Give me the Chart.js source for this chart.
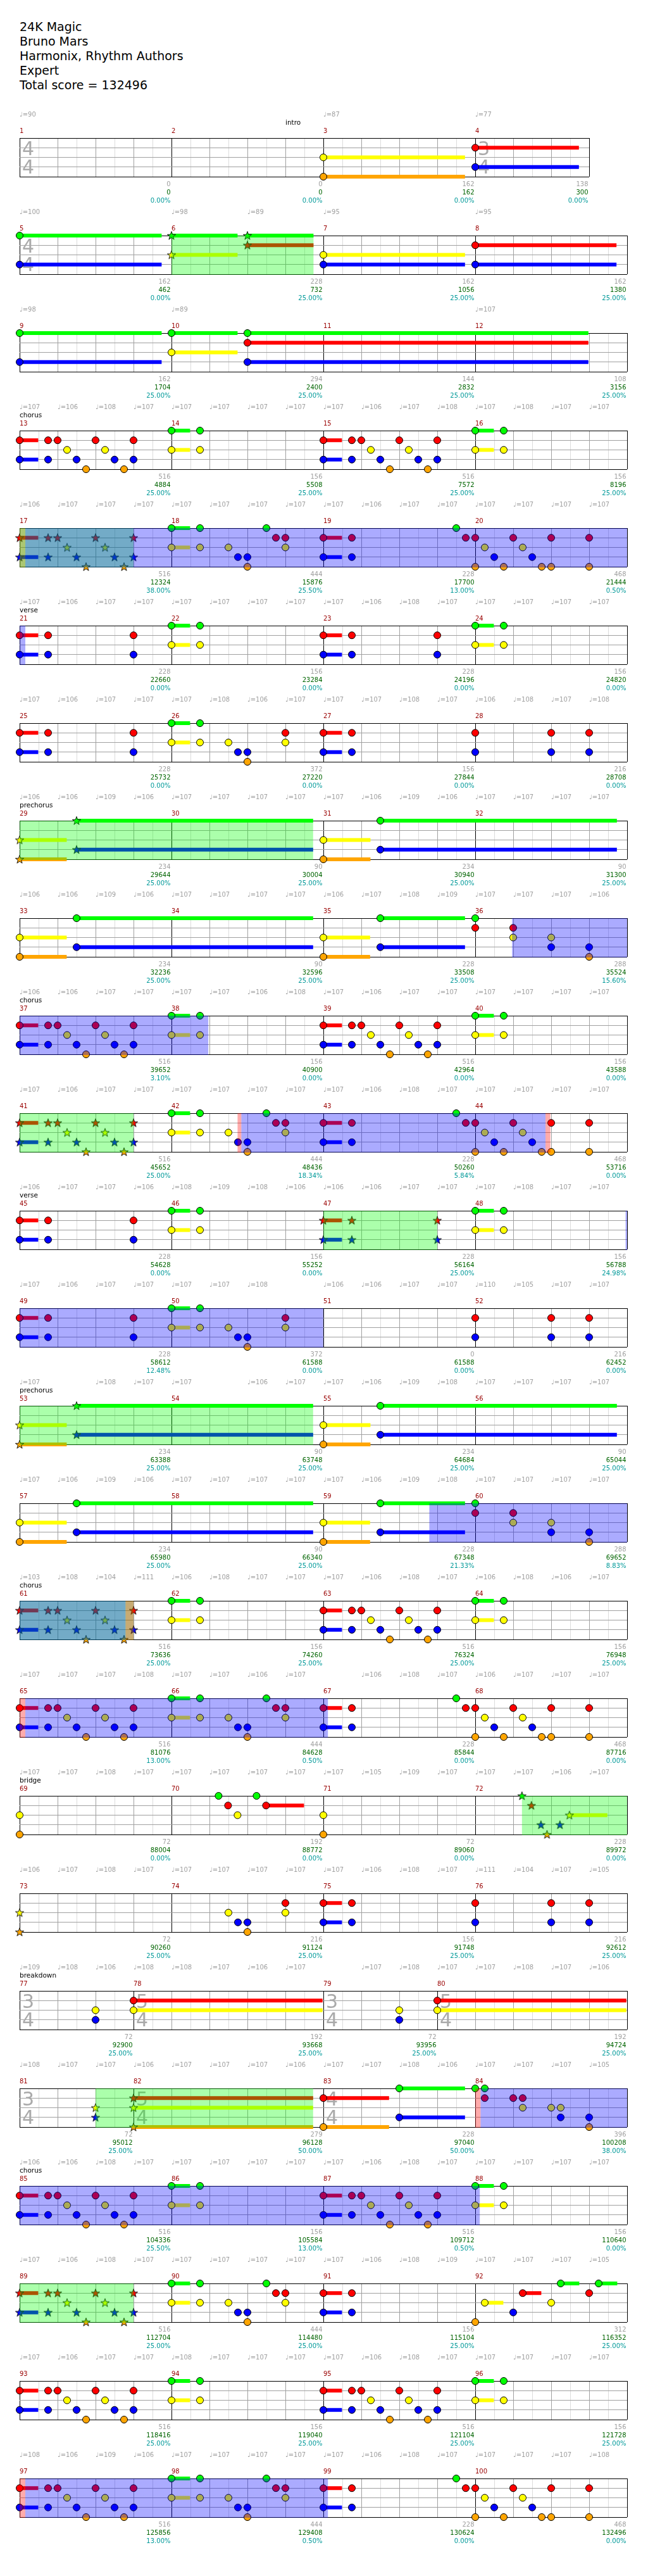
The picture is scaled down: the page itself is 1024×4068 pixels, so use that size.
<!DOCTYPE html>
<html>
<head>
<meta charset="utf-8">
<title>24K Magic - Expert guitar chart</title>
<script src="https://cdn.jsdelivr.net/npm/chart.js@4.4.1/dist/chart.umd.min.js"></script>
<style>
  body { margin: 0; background: #fff; width: 1024px; height: 4068px; position: relative; overflow: hidden; }
  #title { position: absolute; left: 31px; top: 31px; font: 19px 'DejaVu Sans'; line-height: 23px; color: #000; white-space: pre; }
  canvas.row { position: absolute; left: 0; }
</style>
</head>
<body>
<div id="title"></div>
<script>
const songInfo = ['24K Magic', 'Bruno Mars', 'Harmonix, Rhythm Authors', 'Expert', 'Total score = 132496'];

const LANES = 'GRYBO';
const laneColors = ['#00ff00', '#ff0000', '#ffff00', '#0000ff', '#ffa500'];

// measures that are not 4/4
const meterMeasures = [4, 77, 78, 79, 80, 81, 82];
const meterBeats = [3, 3, 5, 3, 5, 3, 5];

// note patterns: [beat inside measure, lanes, sustain length in beats]
const intro3 = [[0, 'YO', 3.73]];
const intro4 = [[0, 'RB', 2.73]];
const introA = [[0, 'GB', 3.74]];
const introB = [[0, 'GY', 1.74], [2, 'GR', 1.74]];
const introC = [[0, 'YB', 3.73]];
const introD = [[0, 'RB', 3.72]];
const introE = [[0, 'GY', 1.74], [2, 'GRB', 8.98]];
const chorusA = [[0, 'RB', 0.49], [0.75, 'RB'], [1, 'R'], [1.25, 'Y'], [1.5, 'B'], [1.75, 'O'], [2, 'R'], [2.25, 'Y'], [2.5, 'B'], [2.75, 'O'], [3, 'RB']];
const chorusB = [[0, 'GY', 0.49], [0.75, 'GY']];
const fill = [[0, 'GY', 0.49], [0.75, 'GY'], [1.5, 'Y'], [1.75, 'B'], [2, 'BO'], [2.5, 'G'], [2.75, 'R'], [3, 'RY']];
const fillShort = [[0, 'GY', 0.49], [0.75, 'GY'], [1.5, 'Y'], [1.75, 'B'], [2, 'BO'], [3, 'RY']];
const hits = [[0, 'RB', 0.49], [0.75, 'RB'], [3.5, 'G'], [3.75, 'R']];
const run = [[0, 'RO'], [0.25, 'Y'], [0.5, 'B'], [0.75, 'O'], [1, 'R'], [1.25, 'Y'], [1.5, 'B'], [1.75, 'O'], [2, 'RO'], [3, 'RO']];
const verseA = [[0, 'RB', 0.49], [0.75, 'RB'], [3, 'RB']];
const verseB = [[0, 'RB', 0.49], [0.75, 'RB']];
const verseC = [[0, 'RB'], [2, 'RB'], [3, 'RB']];
const preA = [[0, 'YO', 1.24], [1.5, 'GB', 6.23]];
const preB = [[0, 'YO', 1.23], [1.5, 'GB', 2.23]];
const solo = [[0, 'GR'], [1, 'RY'], [2, 'YB'], [3, 'BO']];
const bridgeA = [[0, 'YO']];
const bridgeB = [[1.24, 'G'], [1.49, 'R'], [1.74, 'Y'], [2.24, 'G'], [2.49, 'R', 1.0]];
const bridgeC = [[1.23, 'G'], [1.48, 'R'], [1.73, 'B'], [1.89, 'O'], [2.23, 'B'], [2.48, 'Y', 1.0]];
const bridgeD = [[1.5, 'Y'], [1.75, 'B'], [2, 'BO'], [3, 'RY']];
const breakA = [[2, 'YB']];
const breakB = [[0, 'RY', 4.98]];
const breakC = [[0, 'RYO', 4.73]];
const breakD = [[0, 'RO', 1.73], [2, 'GB', 1.73]];
const breakE = [[0, 'G'], [0.25, 'GR'], [1, 'R'], [1.25, 'RY'], [2, 'Y'], [2.25, 'YB'], [3, 'BO']];
const outroA = [[0, 'O'], [0.25, 'Y', 0.49], [1, 'B'], [1.25, 'R', 0.49], [2, 'Y'], [2.25, 'G', 0.49], [3, 'R'], [3.25, 'G', 0.49]];

const measureNotes = [
  null, null, intro3, intro4,
  introA, introB, introC, introD,
  introA, introE, null, null,
  chorusA, chorusB, chorusA, chorusB,
  chorusA, fill, hits, run,
  verseA, chorusB, verseA, chorusB,
  verseA, fillShort, verseB, verseC,
  preA, null, preA, null,
  preA, null, preB, solo,
  chorusA, chorusB, chorusA, chorusB,
  chorusA, fill, hits, run,
  verseA, chorusB, verseA, chorusB,
  verseA, fillShort, null, verseC,
  preA, null, preA, null,
  preA, null, preB, solo,
  chorusA, chorusB, chorusA, chorusB,
  chorusA, fill, hits, run,
  bridgeA, bridgeB, bridgeA, bridgeC,
  bridgeA, bridgeD, verseB, verseC,
  breakA, breakB, breakA, breakB,
  breakA, breakC, breakD, breakE,
  chorusA, chorusB, chorusA, chorusB,
  chorusA, fill, verseB, outroA,
  chorusA, chorusB, chorusA, chorusB,
  chorusA, fill, hits, run
];
// measures whose notes are star power notes
const starMeasures = [6, 17, 29, 41, 47, 53, 61, 72, 73, 81, 82, 89];

const measureScore = [
  0, 0, 162, 138, 162, 228, 162, 162, 162, 294, 144, 108, 516, 156, 516, 156,
  516, 444, 228, 468, 228, 156, 228, 156, 228, 372, 156, 216, 234, 90, 234, 90,
  234, 90, 228, 288, 516, 156, 516, 156, 516, 444, 228, 468, 228, 156, 228, 156,
  228, 372, 0, 216, 234, 90, 234, 90, 234, 90, 228, 288, 516, 156, 516, 156,
  516, 444, 228, 468, 72, 192, 72, 228, 72, 216, 156, 216, 72, 192, 72, 192,
  72, 279, 228, 396, 516, 156, 516, 156, 516, 444, 156, 312, 516, 156, 516, 156,
  516, 444, 228, 468
];
const totalScore = [
  0, 0, 162, 300, 462, 732, 1056, 1380, 1704, 2400, 2832, 3156,
  4884, 5508, 7572, 8196, 12324, 15876, 17700, 21444, 22660, 23284, 24196, 24820,
  25732, 27220, 27844, 28708, 29644, 30004, 30940, 31300, 32236, 32596, 33508, 35524,
  39652, 40900, 42964, 43588, 45652, 48436, 50260, 53716, 54628, 55252, 56164, 56788,
  58612, 61588, 61588, 62452, 63388, 63748, 64684, 65044, 65980, 66340, 67348, 69652,
  73636, 74260, 76324, 76948, 81076, 84628, 85844, 87716, 88004, 88772, 89060, 89972,
  90260, 91124, 91748, 92612, 92900, 93668, 93956, 94724, 95012, 96128, 97040, 100208,
  104336, 105584, 109712, 110640, 112704, 114480, 115104, 116352, 118416, 119040, 121104, 121728,
  125856, 129408, 130624, 132496
];
const spPercent = [
  0, 0, 0, 0, 0, 25, 25, 25, 25, 25, 25, 25, 25, 25, 25, 25,
  38, 25.5, 13, 0.5, 0, 0, 0, 0, 0, 0, 0, 0, 25, 25, 25, 25,
  25, 25, 25, 15.6, 3.1, 0, 0, 0, 25, 18.34, 5.84, 0, 0, 0, 25, 24.98,
  12.48, 0, 0, 0, 25, 25, 25, 25, 25, 25, 21.33, 8.83, 25, 25, 25, 25,
  13, 0.5, 0, 0, 0, 0, 0, 0, 25, 25, 25, 25, 25, 25, 25, 25,
  25, 50, 50, 38, 25.5, 13, 0.5, 0, 25, 25, 25, 25, 25, 25, 25, 25,
  13, 0.5, 0, 0
];

// tempo marks per row, one slot per beat
const rowTempos = [
  [90, null, null, null, null, null, null, null, 87, null, null, null, 77, null, null],
  [100, null, null, null, 98, null, 89, null, 95, null, null, null, 95, null, null, null],
  [98, null, null, null, 89, null, null, null, null, null, null, null, 107, null, null, null],
  [107, 106, 108, 107, 107, 107, 107, 107, 107, 106, 107, 108, 107, 108, 107, 107],
  [106, 107, 107, 107, 107, 107, 107, 107, 107, 106, 107, 107, 107, 107, 107, 107],
  [107, 106, 107, 107, 107, 107, 107, 107, 107, 106, 108, 107, 107, 107, 107, 107],
  [107, 106, 107, 107, 107, 108, 106, 107, 107, 107, 108, 107, 106, 108, 107, 108],
  [106, 106, 109, 106, 107, 107, 107, 107, 107, 106, 109, 106, 107, 107, 107, 107],
  [106, 106, 109, 106, 107, 107, 107, 107, 106, 107, 108, 109, 107, 107, 107, 106],
  [106, 106, 107, 107, 107, 107, 106, 108, 107, 106, 107, 107, 107, 107, 107, 107],
  [107, 106, 107, 107, 107, 107, 107, 107, 107, 106, 108, 107, 107, 107, 107, 107],
  [106, 107, 107, 106, 108, 109, 108, 106, 106, 106, 107, 107, 107, 108, 107, 107],
  [107, 106, 107, 107, 107, 107, 108, null, 106, 106, 107, 107, 110, 105, 107, 107],
  [107, null, 108, 107, 107, null, 106, 107, 107, 106, 109, 108, 107, 107, 107, 107],
  [107, 106, 109, 106, 107, 107, 107, 107, 107, 106, 109, 108, 107, 107, 107, 107],
  [103, 108, 104, 111, 106, 108, 107, 107, 107, 106, 108, 107, 106, 108, 106, 107],
  [107, 107, 107, 108, 107, 107, 106, 107, null, 106, 108, 107, 106, 107, 107, 107],
  [107, 107, 108, 107, 107, 107, 107, 107, 107, 105, 109, 107, 107, 107, 106, 107],
  [106, 107, 108, 107, 107, 107, 107, 107, 107, 106, 108, 107, 111, 104, 107, 105],
  [109, 108, 106, 108, 108, 107, 106, 107, null, 107, 108, 107, 107, 108, 107, 106],
  [108, 107, 107, 106, 107, 107, 107, 106, 107, 107, 108, 106, 107, 107, 107, 105],
  [106, 106, 108, 107, 107, 107, 107, 107, 107, 106, 108, 107, 107, 107, 107, 107],
  [107, 106, 108, 107, 107, 107, 107, 107, 107, 106, 108, 109, 107, 107, 107, 105],
  [107, 106, 107, 107, 108, 107, 107, 107, 107, 106, 108, 107, 107, 107, 107, 107],
  [108, 106, 109, 106, 107, 107, 107, 107, 107, 106, 108, 107, 107, 107, 107, 108]
];

// [measure, beat inside measure, name]
const sections = [
  [2, 3, 'intro'], [13, 0, 'chorus'], [21, 0, 'verse'], [29, 0, 'prechorus'],
  [37, 0, 'chorus'], [45, 0, 'verse'], [53, 0, 'prechorus'], [61, 0, 'chorus'],
  [69, 0, 'bridge'], [77, 0, 'breakdown'], [85, 0, 'chorus']
];

// shaded phrases: [row, start beat, end beat, kind]
const phrases = [
  [1, 4, 7.74, 'star'],
  [4, 0, 0.15, 'whammy'], [4, 0, 3, 'star'], [4, 0.15, 16, 'drive'],
  [5, 0, 0.15, 'drive'],
  [7, 0, 7.73, 'star'],
  [8, 12.97, 16, 'drive'],
  [9, 0, 4.97, 'drive'],
  [10, 0, 3, 'star'], [10, 5.74, 5.84, 'whammy'], [10, 5.84, 13.85, 'drive'], [10, 13.85, 13.98, 'whammy'],
  [11, 8, 11, 'star'], [11, 15.96, 16, 'drive'],
  [12, 0, 8, 'drive'],
  [13, 0, 7.73, 'star'],
  [14, 10.79, 16, 'drive'],
  [15, 0, 3, 'star'], [15, 0, 2.79, 'drive'], [15, 2.79, 3, 'whammy'],
  [16, 0, 0.15, 'whammy'], [16, 0.15, 8.12, 'drive'],
  [17, 13.23, 16, 'star'],
  [20, 2, 7.73, 'star'], [20, 12, 12.14, 'whammy'], [20, 12.14, 16, 'drive'],
  [21, 0, 12.12, 'drive'],
  [22, 0, 3, 'star'],
  [24, 0, 0.15, 'whammy'], [24, 0.15, 8.12, 'drive']
];
const phraseFill = { star: 'rgba(0,255,0,0.33)', drive: 'rgba(0,0,255,0.33)', whammy: 'rgba(255,0,0,0.33)' };

document.getElementById('title').textContent = songInfo.join('\n');

function beatsOf(m) {
  const i = meterMeasures.indexOf(m);
  return i < 0 ? 4 : meterBeats[i];
}

function starImage(color) {
  const c = document.createElement('canvas');
  c.width = 16; c.height = 16;
  const g = c.getContext('2d');
  g.beginPath();
  for (let i = 0; i < 10; i++) {
    const rad = i % 2 ? 2.8 : 7;
    const a = -Math.PI / 2 + i * Math.PI / 5;
    g.lineTo(8 + rad * Math.cos(a), 8.5 + rad * Math.sin(a));
  }
  g.closePath();
  g.fillStyle = color;
  g.fill();
  g.strokeStyle = '#1a1a1a';
  g.lineWidth = 1;
  g.stroke();
  return c;
}
const starImages = laneColors.map(starImage);

const FONT = "'DejaVu Sans'";
const STAFF_TOP = 47, ROW_H = 155;

const rowPlugin = {
  id: 'rowText',
  beforeDatasetsDraw(chart, args, opts) {
    // time signatures
    const ctx = chart.ctx, x = chart.scales.x, top = chart.chartArea.top;
    ctx.save();
    ctx.fillStyle = '#aaaaaa';
    ctx.font = '30px ' + FONT;
    ctx.textBaseline = 'alphabetic';
    opts.measures.forEach((m, k) => {
      if (m === 1 || beatsOf(m) !== beatsOf(m - 1)) {
        const px = x.getPixelForValue(opts.starts[k]) + 4;
        ctx.fillText(String(beatsOf(m)), px, top + 27);
        ctx.fillText('4', px, top + 56);
      }
    });
    ctx.restore();
  },
  afterDatasetsDraw(chart, args, opts) {
    const ctx = chart.ctx, x = chart.scales.x, a = chart.chartArea;
    ctx.save();
    phrases.filter(p => p[0] === opts.row).forEach(p => {
      const x1 = x.getPixelForValue(p[1]), x2 = x.getPixelForValue(p[2]);
      ctx.fillStyle = phraseFill[p[3]];
      ctx.fillRect(x1, a.top, x2 - x1, a.bottom - a.top + 1);
    });
    ctx.restore();
  },
  afterDraw(chart, args, opts) {
    const ctx = chart.ctx, x = chart.scales.x, top = chart.chartArea.top, bottom = chart.chartArea.bottom;
    ctx.save();
    ctx.textBaseline = 'middle';
    // tempo marks
    ctx.font = '10px ' + FONT;
    ctx.fillStyle = '#a0a0a0';
    rowTempos[opts.row].forEach((t, b) => {
      if (t !== null) ctx.fillText('\u2669=' + t, x.getPixelForValue(b), top - 37);
    });
    // sections
    ctx.font = '10.5px ' + FONT;
    ctx.fillStyle = '#000';
    sections.forEach(s => {
      const k = opts.measures.indexOf(s[0]);
      if (k >= 0) ctx.fillText(s[2], x.getPixelForValue(opts.starts[k] + s[1]), top - 24);
    });
    // measure numbers and scores
    ctx.font = '10px ' + FONT;
    opts.measures.forEach((m, k) => {
      ctx.textAlign = 'left';
      ctx.fillStyle = '#990000';
      ctx.fillText(String(m), x.getPixelForValue(opts.starts[k]), top - 11);
      const ex = x.getPixelForValue(opts.starts[k] + beatsOf(m)) - 1.5;
      ctx.textAlign = 'right';
      ctx.fillStyle = '#a0a0a0';
      ctx.fillText(String(measureScore[m - 1]), ex, bottom + 12);
      ctx.fillStyle = '#006400';
      ctx.fillText(String(totalScore[m - 1]), ex, bottom + 25);
      ctx.fillStyle = '#009999';
      ctx.fillText(spPercent[m - 1].toFixed(2) + '%', ex, bottom + 38);
    });
    ctx.restore();
  }
};

for (let r = 0; r < 25; r++) {
  const measures = [r * 4 + 1, r * 4 + 2, r * 4 + 3, r * 4 + 4];
  const starts = [];
  let total = 0;
  measures.forEach(m => { starts.push(total); total += beatsOf(m); });
  const bars = new Set(starts.concat([total]));

  const heads = [[], [], [], [], []], stars = [[], [], [], [], []], tails = [[], [], [], [], []];
  measures.forEach((m, k) => {
    const pattern = measureNotes[m - 1] || [];
    const isStar = starMeasures.includes(m);
    pattern.forEach(([nb, lanes, len]) => {
      for (const ch of lanes) {
        const l = LANES.indexOf(ch);
        const bx = starts[k] + nb;
        (isStar ? stars : heads)[l].push({ x: bx, y: l });
        if (len) tails[l].push({ x: bx, y: l }, { x: bx + len, y: l }, { x: bx + len, y: null });
      }
    });
  });

  const datasets = [];
  for (let l = 0; l < 5; l++) {
    datasets.push({
      type: 'line', data: tails[l], borderColor: laneColors[l], borderWidth: 6,
      borderCapStyle: 'butt', pointRadius: 0, spanGaps: false, fill: false, order: 3, clip: false
    });
    datasets.push({
      type: 'scatter', data: heads[l], pointStyle: 'circle', pointRadius: 5.5,
      backgroundColor: laneColors[l], borderColor: '#000', borderWidth: 1, order: 1, clip: false
    });
    datasets.push({
      type: 'scatter', data: stars[l], pointStyle: starImages[l], pointRadius: 7,
      order: 0, clip: false
    });
  }

  const canvas = document.createElement('canvas');
  canvas.className = 'row';
  canvas.width = 1024;
  canvas.height = ROW_H;
  canvas.style.top = (218 + 154 * r - STAFF_TOP) + 'px';
  document.body.appendChild(canvas);

  const halfBeats = [];
  for (let v = 0; v <= total * 2; v++) halfBeats.push({ value: v / 2 });

  new Chart(canvas, {
    type: 'scatter',
    data: { datasets },
    options: {
      responsive: false,
      animation: false,
      devicePixelRatio: 1,
      events: [],
      layout: { padding: { left: 31, right: 1024 - 31 - 60 * total, top: STAFF_TOP, bottom: ROW_H - STAFF_TOP - 61 } },
      plugins: {
        legend: { display: false },
        tooltip: { enabled: false },
        rowText: { row: r, measures, starts }
      },
      scales: {
        x: {
          type: 'linear', min: 0, max: total,
          ticks: { display: false },
          border: { display: false },
          grid: {
            drawTicks: false, lineWidth: 1,
            color: c => bars.has(c.tick.value) ? '#000' : (Number.isInteger(c.tick.value) ? '#a0a0a0' : '#dcdcdc')
          },
          afterBuildTicks: s => { s.ticks = halfBeats; },
          afterFit: s => { s.height = 0; }
        },
        y: {
          type: 'linear', min: 0, max: 4, reverse: true,
          ticks: { display: false },
          border: { display: false },
          grid: {
            drawTicks: false, lineWidth: 1,
            color: c => (c.tick.value === 0 || c.tick.value === 4) ? '#000' : '#a0a0a0'
          },
          afterBuildTicks: s => { s.ticks = [0, 1, 2, 3, 4].map(v => ({ value: v })); },
          afterFit: s => { s.width = 0; }
        }
      }
    },
    plugins: [rowPlugin]
  });
}
</script>
</body>
</html>
